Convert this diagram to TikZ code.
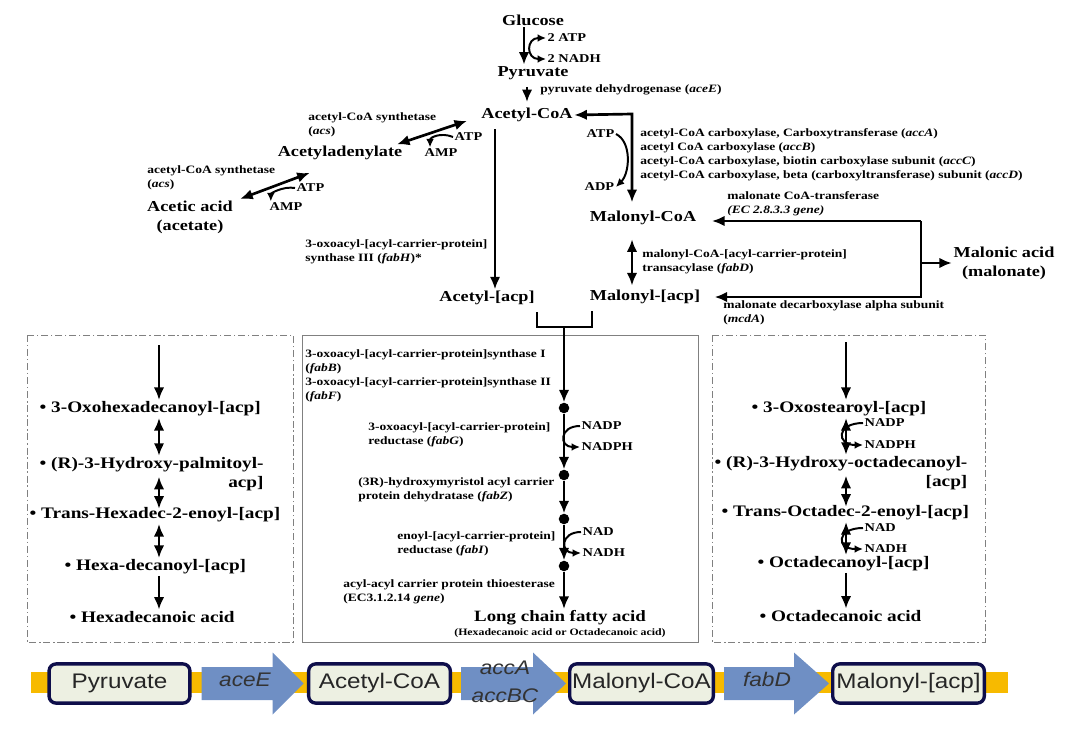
\documentclass[tikz,border=0pt]{standalone}
\usepackage{fontspec}
\setmainfont[FakeStretch=1.2]{Liberation Serif}
\newfontfamily\stripfont[FakeStretch=1.15]{Liberation Sans}
\usetikzlibrary{arrows.meta}

\definecolor{bandyellow}{RGB}{247,186,0}
\definecolor{arrowblue}{RGB}{111,143,196}
\definecolor{boxfill}{RGB}{237,240,226}
\definecolor{boxline}{RGB}{14,14,74}

\begin{document}
\begin{tikzpicture}[x=0.025cm, y=-0.025cm,
  met/.style={font=\fontsize{10.8}{13.5}\selectfont\bfseries, inner sep=1pt, align=center},
  enz/.style={font=\fontsize{8}{10}\selectfont\bfseries, inner sep=0pt, align=left, anchor=west},
  cof/.style={font=\fontsize{8.5}{9}\selectfont\bfseries, inner sep=1pt, anchor=west},
  chain/.style={font=\fontsize{11.4}{13}\selectfont\bfseries, inner sep=1pt, anchor=west},
  flow/.style={line width=1.9pt, -{Latex[length=9pt,width=7.5pt]}},
  rev/.style={line width=1.9pt, {Latex[length=9pt,width=7.5pt]}-{Latex[length=9pt,width=7.5pt]}},
  side/.style={line width=1.4pt},
  sidetip/.style={-{Latex[length=6pt,width=5.5pt]}},
  bothtip/.style={{Latex[length=6pt,width=5.5pt]}-{Latex[length=6pt,width=5.5pt]}},
  dot/.style={circle, fill=black, inner sep=0pt, minimum size=7.5pt},
  boxedge/.style={draw=gray, line width=0.6pt, dash pattern=on 5pt off 2pt on 1pt off 2pt},
  stripbox/.style={draw=boxline, fill=boxfill, line width=2.4pt, rounded corners=5pt,
    minimum height=0.98cm, inner sep=0pt, text=black!85,
    font=\stripfont\fontsize{15}{17}\selectfont},
  arrtext/.style={font=\stripfont\itshape\fontsize{14}{20}\selectfont, text=black!80, align=center}]

\useasboundingbox (0,0) rectangle (1083,729);

% metabolites
\node[met] (gluc) at (533,20) {Glucose};
\node[met] (pyrv) at (533,73) {Pyruvate};
\node[met] (acoa) at (527,115) {Acetyl-CoA};
\node[met] (aden) at (340,153) {Acetyladenylate};
\node[met] (acet) at (190,217) {Acetic acid\\(acetate)};
\node[met] (mcoa) at (643,218) {Malonyl-CoA};
\node[met] (macp) at (645,297) {Malonyl-[acp]};
\node[met] (aacp) at (487,298) {Acetyl-[acp]};
\node[met] (malo) at (1004,263) {Malonic acid\\(malonate)};

\coordinate (gx) at (524,0);  \coordinate (px) at (527,0);
\coordinate (ax) at (495,0);  \coordinate (cx) at (632,0);
\coordinate (turn) at (632,114);
\coordinate (split) at (921,221);

% glycolysis
\node[cof] (atp0) at (546,38) {2 ATP};
\node[cof] (nadh0) at (546,59) {2 NADH};
\draw[flow] (gluc.south -| gx) -- (pyrv.north -| gx);
\draw[side, bothtip] (atp0.west) .. controls +(-20,0) and +(-20,0) .. (nadh0.west);
\draw[flow, shorten <=4pt, shorten >=3pt] (pyrv.south -| px) -- (acoa.north -| px);
\node[enz] (pdh) at (540,90) {pyruvate dehydrogenase (\textit{aceE})};

% acetyl-CoA carboxylase
\node[cof] (atp1) at (585,134) {ATP};
\node[cof] (adp1) at (583,187) {ADP};
\draw[rev, shorten >=5pt] (acoa.east) -- (turn) -- (turn |- mcoa.north);
\draw[side, sidetip] (atp1.east) .. controls +(16,8) and +(14,-14) .. (adp1.east);
\node[enz] (acclab) at (640,155) {acetyl-CoA carboxylase, Carboxytransferase (\textit{accA})\\
  acetyl CoA carboxylase (\textit{accB})\\
  acetyl-CoA carboxylase, biotin carboxylase subunit (\textit{accC})\\
  acetyl-CoA carboxylase, beta (carboxyltransferase) subunit (\textit{accD})};

% malonate branch
\draw[flow, shorten >=10pt] (split) -- (split -| mcoa.east);
\draw[flow, shorten >=9pt] (split) -- (split |- macp) -- (macp.east);
\draw[flow] (split |- malo) -- (malo.west);
\node[enz] (mct) at (727,204) {malonate CoA-transferase\\\textit{(EC 2.8.3.3 gene)}};
\node[enz] (mdc) at (723,313) {malonate decarboxylase alpha subunit\\(\textit{mcdA})};

% transacylase
\draw[rev, shorten <=9pt, shorten >=2pt] (mcoa.south -| cx) -- (macp.north -| cx);
\node[enz] (fabd) at (642,262) {malonyl-CoA-[acyl-carrier-protein]\\transacylase (\textit{fabD})};

% acetyl-[acp]
\draw[flow, shorten <=4pt] (acoa.south -| ax) -- (aacp.north -| ax);
\node[enz] (fabh) at (305,252) {3-oxoacyl-[acyl-carrier-protein]\\synthase III (\textit{fabH})*};

% acetyl-CoA synthetase
\node[enz] (acs1) at (308,125) {acetyl-CoA synthetase\\(\textit{acs})};
\node[cof] (atp2) at (453,137) {ATP};
\node[cof] (amp2) at (423,153) {AMP};
\draw[rev] ([xshift=-5pt]aden.north east) -- ([xshift=-9pt,yshift=2pt]acoa.south west);
\draw[side, sidetip] (atp2.west) .. controls +(-12,-5) and +(0,-10) .. ([xshift=5pt]amp2.north west);

\node[enz] (acs2) at (147,178) {acetyl-CoA synthetase\\(\textit{acs})};
\node[cof] (atp3) at (295,188) {ATP};
\node[cof] (amp3) at (268,207) {AMP};
\draw[rev] ([xshift=4pt]acet.north east) -- ([xshift=24pt,yshift=-8pt]aden.south west);
\draw[side, sidetip] (atp3.west) .. controls +(-12,-2) and +(0,-8) .. ([xshift=2pt]amp3.north west);

% join
\coordinate (jl) at (537,327); \coordinate (jr) at (592,327); \coordinate (jm) at (564,327);
\draw[line width=1.9pt, shorten <=4pt, shorten >=4pt] (aacp.south -| jl) -- (jl) -- (jr) -- (macp.south -| jr);

% elongation cycle
\draw[gray, line width=0.6pt] (302,335) rectangle (698,642);
\node[dot] (d1) at (564,408) {};
\node[dot] (d2) at (564,475) {};
\node[dot] (d3) at (564,519) {};
\node[dot] (d4) at (564,566) {};
\node[met, font=\fontsize{11.2}{13}\selectfont\bfseries] (lcfa) at (560,618) {Long chain fatty acid};
\node[font=\fontsize{7}{8}\selectfont\bfseries, inner sep=0pt] (lcfasub) at (560,633) {(Hexadecanoic acid or Octadecanoic acid)};
\draw[flow] (jm) -- (d1);
\draw[flow] (d1) -- (d2);
\draw[flow] (d2) -- (d3);
\draw[flow] (d3) -- (d4);
\draw[flow] (d4) -- (lcfa.north -| d4);

\node[enz] (fabbf) at (305,376) {3-oxoacyl-[acyl-carrier-protein]synthase I\\(\textit{fabB})\\
  3-oxoacyl-[acyl-carrier-protein]synthase II\\(\textit{fabF})};
\node[enz] (fabg) at (368,435) {3-oxoacyl-[acyl-carrier-protein]\\reductase (\textit{fabG})};
\node[enz] (fabz) at (358,490) {(3R)-hydroxymyristol acyl carrier\\protein dehydratase (\textit{fabZ})};
\node[enz] (fabi) at (397,544) {enoyl-[acyl-carrier-protein]\\reductase (\textit{fabI})};
\node[enz] (tes) at (343,592) {acyl-acyl carrier protein thioesterase\\(EC3.1.2.14 \textit{gene})};

\node[cof] (nadp1) at (580,426) {NADP};
\node[cof] (nadph1) at (580,447) {NADPH};
\draw[side, sidetip] (nadp1.west) .. controls +(-21,0) and +(-21,0) .. (nadph1.west);
\node[cof] (nad1) at (581,532) {NAD};
\node[cof] (nadh1) at (581,553) {NADH};
\draw[side, sidetip] (nad1.west) .. controls +(-21,0) and +(-21,0) .. (nadh1.west);

% C16 branch
\draw[boxedge] (27,335) rectangle (293,642);
\coordinate (ltop) at (159,345); \coordinate (lx) at (159,0);
\node[chain] (l1) at (38,409) {\textbullet\ 3-Oxohexadecanoyl-[acp]};
\node[chain, align=right] (l2) at (38,474) {\textbullet\ (R)-3-Hydroxy-palmitoyl-\\acp]};
\node[chain] (l3) at (28,515) {\textbullet\ Trans-Hexadec-2-enoyl-[acp]};
\node[chain] (l4) at (63,567) {\textbullet\ Hexa-decanoyl-[acp]};
\node[chain] (l5) at (68,617) {\textbullet\ Hexadecanoic acid};
\draw[flow] (ltop) -- (l1.north -| lx);
\draw[rev] (l1.south -| lx) -- (l2.north -| lx);
\draw[rev, shorten <=-11pt, shorten >=-2pt] (l2.south -| lx) -- (l3.north -| lx);
\draw[rev] (l3.south -| lx) -- (l4.north -| lx);
\draw[flow] (l4.south -| lx) -- (l5.north -| lx);

% C18 branch
\draw[boxedge] (712,335) rectangle (985,642);
\coordinate (rtop) at (846,342); \coordinate (rx) at (846,0);
\node[chain] (r1) at (750,409) {\textbullet\ 3-Oxostearoyl-[acp]};
\node[chain, align=right] (r2) at (713,473) {\textbullet\ (R)-3-Hydroxy-octadecanoyl-\\{[acp]}};
\node[chain] (r3) at (720,513) {\textbullet\ Trans-Octadec-2-enoyl-[acp]};
\node[chain] (r4) at (756,564) {\textbullet\ Octadecanoyl-[acp]};
\node[chain] (r5) at (758,616) {\textbullet\ Octadecanoic acid};
\draw[flow] (rtop) -- (r1.north -| rx);
\draw[rev] (r1.south -| rx) -- (r2.north -| rx);
\draw[rev, shorten <=-11pt, shorten >=-2pt] (r2.south -| rx) -- (r3.north -| rx);
\draw[rev] (r3.south -| rx) -- (r4.north -| rx);
\draw[flow] (r4.south -| rx) -- (r5.north -| rx);

\node[cof] (nadp2) at (863,423) {NADP};
\node[cof] (nadph2) at (863,445) {NADPH};
\draw[side, sidetip] (nadp2.west) .. controls +(-27,0) and +(-27,0) .. (nadph2.west);
\node[cof] (nad2) at (863,528) {NAD};
\node[cof] (nadh2) at (863,549) {NADH};
\draw[side, sidetip] (nad2.west) .. controls +(-27,0) and +(-27,0) .. (nadh2.west);

% gene strip
\fill[bandyellow] (31,672) rectangle (1008,693);
\node[stripbox, minimum width=3.52cm] (bpyr) at (119.5,683.5) {Pyruvate};
\node[stripbox, minimum width=3.54cm] (bacoa) at (379.5,683.5) {Acetyl-CoA};
\node[stripbox, minimum width=3.59cm] (bmcoa) at (641.5,683.5) {Malonyl-CoA};
\node[stripbox, minimum width=3.79cm] (bmacp) at (908.5,683.5) {Malonyl-[acp]};

\fill[arrowblue] (bpyr.east) ++(10,-16.5) -- ++(71,0) -- ++(0,-14.5) -- ++(31,31)
  -- ++(-31,31) -- ++(0,-14.5) -- ++(-71,0) -- cycle;
\fill[arrowblue] (bacoa.east) ++(9,-16.5) -- ++(72,0) -- ++(0,-14.5) -- ++(33,31)
  -- ++(-33,31) -- ++(0,-14.5) -- ++(-72,0) -- cycle;
\fill[arrowblue] (bmcoa.east) ++(9,-16.5) -- ++(70,0) -- ++(0,-14.5) -- ++(35,31)
  -- ++(-35,31) -- ++(0,-14.5) -- ++(-70,0) -- cycle;
\node[arrtext] (gene1) at (245,680) {aceE};
\node[arrtext] (gene2) at (505,682) {accA\\accBC};
\node[arrtext] (gene3) at (767,679) {fabD};

\end{tikzpicture}
\end{document}
